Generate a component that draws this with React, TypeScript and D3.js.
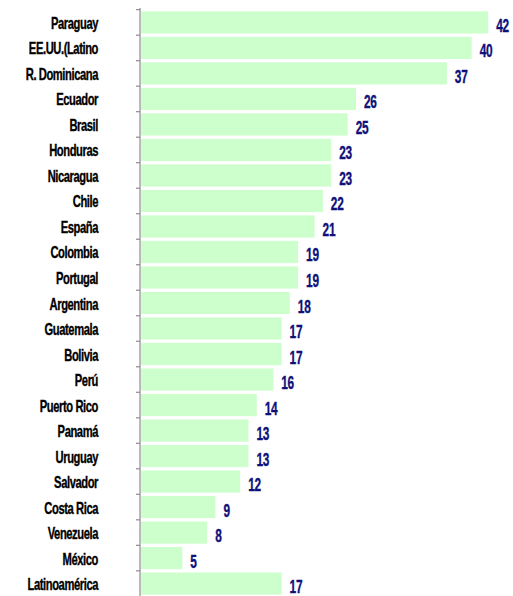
import React from 'react';
import * as d3 from 'd3';

const countries = [
  'Paraguay', 'EE.UU.(Latino', 'R. Dominicana', 'Ecuador', 'Brasil', 'Honduras',
  'Nicaragua', 'Chile', 'España', 'Colombia', 'Portugal', 'Argentina', 'Guatemala',
  'Bolivia', 'Perú', 'Puerto Rico', 'Panamá', 'Uruguay', 'Salvador', 'Costa Rica',
  'Venezuela', 'México', 'Latinoamérica',
];
const values = [42, 40, 37, 26, 25, 23, 23, 22, 21, 19, 19, 18, 17, 17, 16, 14, 13, 13, 12, 9, 8, 5, 17];

const W = 513, H = 596;
const FONT = "'Liberation Sans', Arial, sans-serif";

export default function App() {
  const x = d3.scaleLinear().domain([0, 45]).range([141, 513]);
  const y = d3.scaleBand<string>().domain(countries).range([8, 598]).padding(0.13);
  const gap = y.step() - y.bandwidth();
  const axisX = 140;
  const labelRight = 98;

  return (
    <div style={{ position: 'absolute', left: 0, top: 0 }}>
      <svg width={W} height={H} style={{ display: 'block', background: '#fff' }}>
        {/* axis */}
        <line x1={axisX} x2={axisX} y1={8} y2={H} stroke="#8c8c8c" strokeWidth={1.2} />
        {countries.map((c) => {
          const ty = (y(c) as number) - gap / 2;
          return <line key={'t' + c} x1={axisX - 4} x2={axisX} y1={ty} y2={ty} stroke="#8c8c8c" strokeWidth={1.2} />;
        })}
        {countries.map((c, i) => {
          const yy = y(c) as number;
          const cy = yy + y.bandwidth() / 2;
          return (
            <g key={c}>
              <rect x={x(0)} y={yy} width={x(values[i]) - x(0)} height={y.bandwidth()} fill="#ccffcc" />
              <text
                transform={`translate(${labelRight},${cy + 6.5}) scale(0.7,1)`}
                textAnchor="end"
                fontFamily={FONT}
                fontWeight="bold"
                fontSize={16}
                letterSpacing={-0.6}
                fill="#000"
                stroke="#000"
                strokeWidth={0.35}
              >
                {c}
              </text>
              <text
                transform={`translate(${x(values[i]) + 8},${cy + 9.5}) scale(0.66,1)`}
                fontFamily={FONT}
                fontWeight="bold"
                fontSize={18}
                letterSpacing={-0.4}
                fill="#10107a"
                stroke="#10107a"
                strokeWidth={0.35}
              >
                {values[i]}
              </text>
            </g>
          );
        })}
      </svg>
    </div>
  );
}
